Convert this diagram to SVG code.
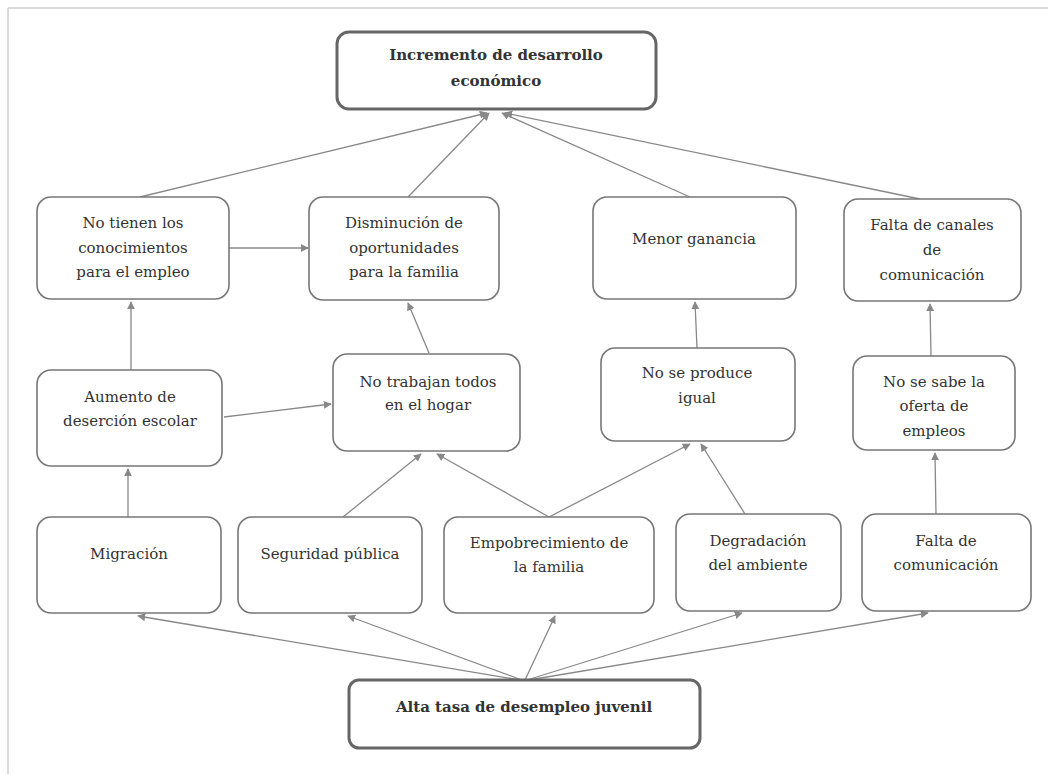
<svg xmlns="http://www.w3.org/2000/svg" width="1048" height="774" viewBox="0 0 1048 774">
<style>
.box{fill:#fff;stroke:#777;stroke-width:1.6}
.thick{fill:#fff;stroke:#666;stroke-width:3}
text{font-family:'DejaVu Serif',serif;font-size:15px;fill:#333;text-anchor:middle}
.b{font-weight:bold}
#connectors line{stroke:#888;stroke-width:1.3;marker-end:url(#ah)}
.frame{stroke:#ccc;stroke-width:1.5}
</style>
<defs>
<marker id="ah" viewBox="0 0 10 10" refX="9" refY="5" markerWidth="8" markerHeight="8" markerUnits="userSpaceOnUse" orient="auto">
<path d="M0,0 L10,5 L0,10 z" fill="#888"/>
</marker>
</defs>
<rect width="1048" height="774" fill="#fff"/>
<line class="frame" x1="8" y1="8" x2="1048" y2="8"/>
<line class="frame" x1="8" y1="8" x2="8" y2="774"/>

<g id="connectors">
<line x1="140" y1="197" x2="487" y2="113"/>
<line x1="408" y1="197" x2="489" y2="113"/>
<line x1="690" y1="197" x2="502" y2="113"/>
<line x1="920" y1="199" x2="505" y2="113"/>
<line x1="229" y1="248" x2="308" y2="248"/>
<line x1="131" y1="370" x2="131" y2="302"/>
<line x1="224" y1="417" x2="331" y2="404"/>
<line x1="429" y1="353" x2="408" y2="303"/>
<line x1="128" y1="517" x2="128" y2="469"/>
<line x1="343" y1="517" x2="421" y2="454"/>
<line x1="549" y1="517" x2="437" y2="454"/>
<line x1="549" y1="517" x2="690" y2="444"/>
<line x1="745" y1="514" x2="701" y2="444"/>
<line x1="697" y1="348" x2="695" y2="302"/>
<line x1="931" y1="356" x2="930" y2="304"/>
<line x1="936" y1="514" x2="935" y2="453"/>
<line x1="520" y1="680" x2="138" y2="616"/>
<line x1="522" y1="680" x2="348" y2="616"/>
<line x1="525" y1="680" x2="555" y2="616"/>
<line x1="527" y1="680" x2="742" y2="613"/>
<line x1="529" y1="680" x2="928" y2="613"/>
</g>

<g id="n-top">
<rect class="thick" x="337" y="32" width="319" height="77" rx="12"/>
<text class="b" x="496" y="60">Incremento de desarrollo</text>
<text class="b" x="496" y="86">económico</text>
</g>

<g id="n-conocimientos">
<rect class="box" x="37" y="197" width="192" height="102" rx="14"/>
<text x="133" y="228">No tienen los</text>
<text x="133" y="253">conocimientos</text>
<text x="133" y="277">para el empleo</text>
</g>
<g id="n-disminucion">
<rect class="box" x="309" y="197" width="190" height="103" rx="14"/>
<text x="404" y="228">Disminución de</text>
<text x="404" y="253">oportunidades</text>
<text x="404" y="277">para la familia</text>
</g>
<g id="n-ganancia">
<rect class="box" x="593" y="197" width="203" height="102" rx="14"/>
<text x="694" y="244">Menor ganancia</text>
</g>
<g id="n-canales">
<rect class="box" x="844" y="199" width="177" height="102" rx="14"/>
<text x="932" y="230">Falta de canales</text>
<text x="932" y="255">de</text>
<text x="932" y="280">comunicación</text>
</g>

<g id="n-desercion">
<rect class="box" x="37" y="370" width="185" height="96" rx="14"/>
<text x="130" y="402">Aumento de</text>
<text x="130" y="426">deserción escolar</text>
</g>
<g id="n-trabajan">
<rect class="box" x="333" y="354" width="187" height="97" rx="14"/>
<text x="428" y="387">No trabajan todos</text>
<text x="428" y="410">en el hogar</text>
</g>
<g id="n-produce">
<rect class="box" x="601" y="348" width="194" height="93" rx="14"/>
<text x="697" y="378">No se produce</text>
<text x="697" y="403">igual</text>
</g>
<g id="n-oferta">
<rect class="box" x="853" y="356" width="162" height="94" rx="14"/>
<text x="934" y="387">No se sabe la</text>
<text x="934" y="411">oferta de</text>
<text x="934" y="436">empleos</text>
</g>

<g id="n-migracion">
<rect class="box" x="37" y="517" width="184" height="96" rx="14"/>
<text x="129" y="559">Migración</text>
</g>
<g id="n-seguridad">
<rect class="box" x="238" y="517" width="184" height="96" rx="14"/>
<text x="330" y="559">Seguridad pública</text>
</g>
<g id="n-empobrecimiento">
<rect class="box" x="444" y="517" width="210" height="96" rx="14"/>
<text x="549" y="548">Empobrecimiento de</text>
<text x="549" y="572">la familia</text>
</g>
<g id="n-degradacion">
<rect class="box" x="676" y="514" width="165" height="97" rx="14"/>
<text x="758" y="546">Degradación</text>
<text x="758" y="570">del ambiente</text>
</g>
<g id="n-comunicacion">
<rect class="box" x="862" y="514" width="169" height="97" rx="14"/>
<text x="946" y="546">Falta de</text>
<text x="946" y="570">comunicación</text>
</g>

<g id="n-bottom">
<rect class="thick" x="349" y="680" width="351" height="68" rx="10"/>
<text class="b" x="524" y="712">Alta tasa de desempleo juvenil</text>
</g>
</svg>
